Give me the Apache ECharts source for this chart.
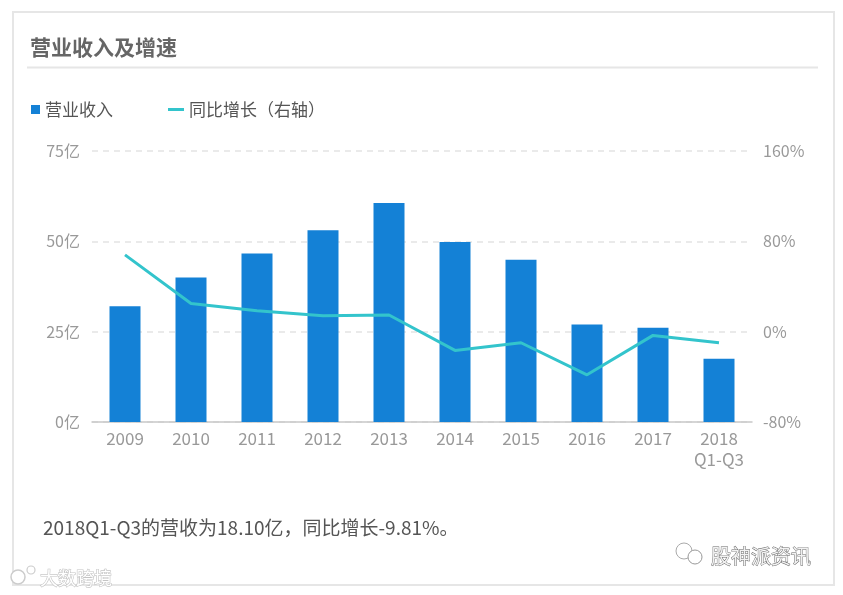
<!DOCTYPE html>
<html>
<head>
<meta charset="utf-8">
<script src="https://cdn.jsdelivr.net/npm/echarts@6/dist/echarts.min.js"></script>
<style>
html,body{margin:0;padding:0;background:#fff;}
#c{width:843px;height:595px;}
</style>
</head>
<body>
<div id="c"></div>
<script>
const categories = ['2009','2010','2011','2012','2013','2014','2015','2016','2017','2018\nQ1-Q3'];
const revenue = [32.0, 40.0, 46.6, 53.1, 60.6, 49.8, 44.9, 27.0, 26.1, 17.5];
const growth = [68.0, 25.0, 18.5, 14.0, 14.8, -16.6, -9.8, -38.2, -3.3, -9.8];
const leftTicks = {min: 0, max: 75, interval: 25};
const rightTicks = {min: -80, max: 160, interval: 80};

const FONT = '"Noto Sans CJK SC", "Noto Sans", sans-serif';
const chart = echarts.init(document.getElementById('c'), null, {renderer: 'canvas'});

chart.setOption({
  backgroundColor: '#fff',
  animation: false,
  textStyle: {fontFamily: FONT},
  title: {
    text: '营业收入及增速',
    left: 25, top: 32,
    textStyle: {fontSize: 21, fontWeight: 'bold', color: '#666', fontFamily: FONT}
  },
  legend: [
    {
      data: ['营业收入'], left: 26, top: 96,
      icon: 'rect', itemWidth: 9, itemHeight: 9, itemGap: 8,
      textStyle: {fontSize: 17, color: '#555', fontFamily: FONT}
    },
    {
      data: ['同比增长（右轴）'], left: 163, top: 96,
      icon: 'rect', itemWidth: 16, itemHeight: 3,
      textStyle: {fontSize: 17, color: '#555', fontFamily: FONT}
    }
  ],
  grid: {left: 92, right: 91, top: 151, bottom: 173, containLabel: false},
  xAxis: {
    type: 'category', data: categories,
    axisLine: {lineStyle: {color: '#c8c8c8', width: 1.5}},
    axisTick: {show: false},
    axisLabel: {color: '#999', fontSize: 17, margin: 6, lineHeight: 21, fontFamily: FONT}
  },
  yAxis: [
    {
      type: 'value', min: leftTicks.min, max: leftTicks.max, interval: leftTicks.interval,
      axisLine: {show: false}, axisTick: {show: false},
      axisLabel: {color: '#999', fontSize: 16, margin: 12, formatter: v => v + '亿', fontFamily: FONT},
      splitLine: {lineStyle: {color: '#e3e3e3', type: [6, 5], width: 1.5}}
    },
    {
      type: 'value', min: rightTicks.min, max: rightTicks.max, interval: rightTicks.interval,
      axisLine: {show: false}, axisTick: {show: false},
      axisLabel: {color: '#999', fontSize: 16, margin: 11, formatter: v => v + '%', fontFamily: FONT},
      splitLine: {show: false}
    }
  ],
  series: [
    {
      name: '营业收入', type: 'bar', data: revenue, yAxisIndex: 0,
      barWidth: 31, itemStyle: {color: '#1481d6'}
    },
    {
      name: '同比增长（右轴）', type: 'line', data: growth, yAxisIndex: 1,
      showSymbol: false, symbol: 'none',
      lineStyle: {color: '#33c4cc', width: 3}, itemStyle: {color: '#33c4cc'}
    }
  ],
  graphic: [
    {type: 'rect', shape: {x: 13, y: 12, width: 821, height: 573}, style: {fill: 'none', stroke: '#e6e6e6', lineWidth: 2}, silent: true, z: -1},
    {type: 'line', shape: {x1: 27, y1: 67.5, x2: 818, y2: 67.5}, style: {stroke: '#e6e6e6', lineWidth: 2}, silent: true},
    {type: 'text', x: 43, y: 528, style: {text: '2018Q1-Q3的营收为18.10亿，同比增长-9.81%。', fontSize: 19, fill: '#555', fontFamily: FONT, verticalAlign: 'middle'}},
    {type: 'circle', shape: {cx: 684, cy: 551, r: 8}, style: {fill: 'none', stroke: '#aaa', lineWidth: 1}},
    {type: 'circle', shape: {cx: 695, cy: 557, r: 7}, style: {fill: '#fff', stroke: '#999', lineWidth: 1}},
    {type: 'text', x: 711, y: 556, style: {text: '股神派资讯', fontSize: 20, fill: '#f2f2f2', stroke: '#666', lineWidth: 0.9, fontFamily: FONT, verticalAlign: 'middle'}},
    {type: 'circle', shape: {cx: 18, cy: 577, r: 7}, style: {fill: '#fff', stroke: '#ccc', lineWidth: 1.5}},
    {type: 'circle', shape: {cx: 31, cy: 570, r: 4}, style: {fill: '#fff', stroke: '#ccc', lineWidth: 1.2}},
    {type: 'text', x: 40, y: 578, style: {text: '大数跨境', fontSize: 18, fill: '#ffffff', stroke: '#c4c4c4', lineWidth: 1.2, fontFamily: FONT, verticalAlign: 'middle'}}
  ]
});
</script>
</body>
</html>
